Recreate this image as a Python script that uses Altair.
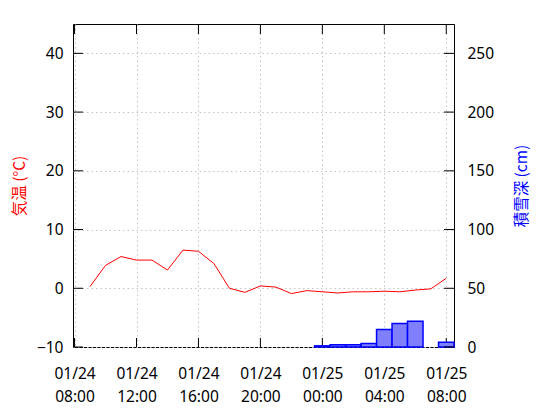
import altair as alt
import pandas as pd

# ---- data ----
hours = pd.date_range("2024-01-24 09:00", periods=24, freq="h")
temps = [0.3, 3.9, 5.4, 4.8, 4.8, 3.1, 6.5, 6.3, 4.2, 0.0, -0.7, 0.4,
         0.2, -0.9, -0.4, -0.6, -0.8, -0.6, -0.6, -0.5, -0.6, -0.3, -0.1, 1.7]
snow = [0, 0, 0, 0, 0, 0, 0, 0, 0, 0, 0, 0, 0, 0, 0,
        1, 2, 2, 3, 15, 20, 22, None, 4]
x_ticks = ["2024-01-24T08:00:00", "2024-01-24T12:00:00", "2024-01-24T16:00:00",
           "2024-01-24T20:00:00", "2024-01-25T00:00:00", "2024-01-25T04:00:00",
           "2024-01-25T08:00:00"]
temp_ticks = [-10, 0, 10, 20, 30, 40]
snow_ticks = [0, 50, 100, 150, 200, 250]

W, H = 381, 323

df = pd.DataFrame({"time": hours, "temp": temps, "snow": snow})
df["start"] = df["time"] - pd.Timedelta(minutes=30)
df["end"] = df["time"] + pd.Timedelta(minutes=30)
for c in ["time", "start", "end"]:
    df[c] = df[c].dt.strftime("%Y-%m-%dT%H:%M:%S")

xt = pd.DataFrame({"time": x_ticks})
tt = pd.DataFrame({"temp": temp_ticks})
st = pd.DataFrame({"snow": snow_ticks})


def dt(s):
    t = pd.Timestamp(s)
    return alt.DateTime(year=t.year, month=t.month, date=t.day, hours=t.hour, minutes=t.minute)


xscale = alt.Scale(domain=[dt("2024-01-24T07:54:00"), dt("2024-01-25T08:30:00")], nice=False)
tscale = alt.Scale(domain=[-10, 45], nice=False, zero=False)
sscale = alt.Scale(domain=[0, 275], nice=False, zero=False)

xaxis = alt.Axis(
    values=[dt(s) for s in x_ticks],
    labelExpr="[timeFormat(datum.value, '%m/%d'), timeFormat(datum.value, '%H:%M')]",
    labelLineHeight=23, labelPadding=19, title=None, grid=True,
    labelAlign="center",
)
taxis = alt.Axis(
    values=temp_ticks, title="気温 (°C)", titleColor="#ff0000", grid=True,
    labelPadding=10, titleX=-54, titleY=H / 2, titleAngle=270,
    titleAlign="center", titleBaseline="middle")
saxis = alt.Axis(
    orient="right", values=snow_ticks, title="積雪深 (cm)", titleColor="#0000ff",
    grid=False, labelPadding=13, titleX=67, titleY=H / 2, titleAngle=270,
    titleAlign="center", titleBaseline="middle")

X = alt.X("time:T", scale=xscale, axis=xaxis)
YT = alt.Y("temp:Q", scale=tscale, axis=taxis)
YS = alt.Y("snow:Q", scale=sscale, axis=saxis)

line = alt.Chart(df).mark_line(color="#ff0000", strokeWidth=1).encode(x=X, y=YT)

xtick_bottom = alt.Chart(xt).mark_rule(color="black", strokeWidth=1).encode(
    x=X, y=alt.value(H), y2=alt.value(H - 9))
xtick_top = alt.Chart(xt).mark_rule(color="black", strokeWidth=1).encode(
    x=X, y=alt.value(0), y2=alt.value(10))
ytick_left = alt.Chart(tt).mark_rule(color="black", strokeWidth=1).encode(
    y=YT, x=alt.value(0), x2=alt.value(10))

temp_group = alt.layer(line, xtick_bottom, xtick_top, ytick_left)

bars = alt.Chart(df).transform_filter(
    "isValid(datum.snow) && datum.snow > 0"
).mark_rect(fill="#8080ff", stroke="#0000ff", strokeWidth=1.5).encode(
    x=alt.X("start:T", scale=xscale, axis=xaxis),
    x2="end:T",
    y=YS,
    y2=alt.datum(0),
)
ytick_right = alt.Chart(st).mark_rule(color="black", strokeWidth=1).encode(
    y=YS, x=alt.value(W), x2=alt.value(W - 10))

snow_group = alt.layer(bars, ytick_right)

chart = alt.layer(temp_group, snow_group).resolve_scale(y="independent").properties(
    width=W, height=H,
    autosize=alt.AutoSizeParams(type="none"),
    padding={"left": 65, "top": 16, "right": 90, "bottom": 65},
).configure_view(stroke="black", strokeWidth=1).configure_axis(
    labelFont="Noto Sans", labelFontSize=15.5, labelColor="black",
    titleFont="Noto Sans CJK JP", titleFontSize=15.5, titleFontWeight="normal",
    domain=False, ticks=False, gridColor="#c4c4c4", gridDash=[1.5, 3], gridWidth=1,
)

chart.save("out.html", embed_options={"renderer": "svg", "actions": False})
